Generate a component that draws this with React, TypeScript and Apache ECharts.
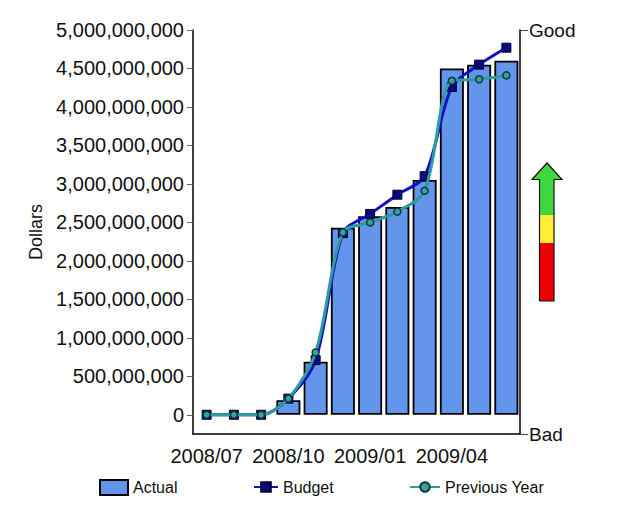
import React, { useEffect, useRef } from "react";
import * as echarts from "echarts";

const categories = [
  "2008/07", "2008/08", "2008/09", "2008/10", "2008/11", "2008/12",
  "2009/01", "2009/02", "2009/03", "2009/04", "2009/05", "2009/06",
];
const actual = [null, null, null, 190e6, 690e6, 2430e6, 2580e6, 2700e6, 3050e6, 4500e6, 4550e6, 4600e6];
const budget = [0, 0, 0, 210e6, 710e6, 2360e6, 2610e6, 2860e6, 3100e6, 4260e6, 4550e6, 4770e6];
const previousYear = [0, 0, 0, 210e6, 810e6, 2370e6, 2500e6, 2640e6, 2910e6, 4340e6, 4360e6, 4410e6];
const yTicks = [0, 500e6, 1000e6, 1500e6, 2000e6, 2500e6, 3000e6, 3500e6, 4000e6, 4500e6, 5000e6];
const rightLabels = ["Bad", "Good"];

const FONT = "Liberation Sans, Arial, sans-serif";

export default function App() {
  const ref = useRef<HTMLDivElement>(null);
  useEffect(() => {
    if (!ref.current) return;
    const chart = echarts.init(ref.current, null, { renderer: "svg" });
    const legendText = { fontFamily: FONT, fontSize: 16, color: "#111" };
    chart.setOption({
      animation: false,
      backgroundColor: "#ffffff",
      grid: { left: 193, right: 100, top: 30, bottom: 74, containLabel: false },
      legend: [
        { data: [{ name: "Actual", icon: "rect" }], left: 94, top: 474, itemWidth: 28, itemHeight: 15, itemGap: 9, textStyle: legendText },
        { data: ["Budget"], left: 248, top: 474, itemWidth: 24, itemHeight: 12, textStyle: legendText },
        { data: ["Previous Year"], left: 404, top: 474, itemWidth: 30, itemHeight: 12, textStyle: legendText },
      ],
      xAxis: {
        type: "category",
        data: categories,
        boundaryGap: true,
        axisLine: { onZero: false, lineStyle: { color: "#000", width: 1.5 } },
        axisTick: { alignWithLabel: true, interval: 2, length: 7, lineStyle: { color: "#888" } },
        axisLabel: { interval: 2, margin: 12, fontFamily: FONT, fontSize: 20, color: "#111" },
      },
      yAxis: [
        {
          type: "value",
          min: -250e6,
          max: 5000e6,
          name: "Dollars",
          nameLocation: "middle",
          nameRotate: 90,
          nameGap: 144,
          nameTextStyle: { fontFamily: FONT, fontSize: 18, color: "#111" },
          axisLine: { show: true, lineStyle: { color: "#000", width: 1.5 } },
          axisTick: { show: true, length: 6, customValues: yTicks, lineStyle: { color: "#666" } },
          axisLabel: {
            customValues: yTicks,
            margin: 9,
            fontFamily: FONT,
            fontSize: 20,
            color: "#111",
            formatter: (v: number) => v.toLocaleString("en-US"),
          },
          splitLine: { show: false },
        },
        {
          type: "value",
          position: "right",
          min: 0,
          max: 1,
          interval: 1,
          axisLine: { show: true, lineStyle: { color: "#000", width: 1.5 } },
          axisTick: { show: true, length: 8, lineStyle: { color: "#444" } },
          axisLabel: {
            margin: 9,
            fontFamily: FONT,
            fontSize: 19,
            color: "#111",
            formatter: (v: number) => (v >= 1 ? rightLabels[1] : rightLabels[0]),
          },
          splitLine: { show: false },
        },
      ],
      series: [
        {
          name: "Actual",
          type: "bar",
          data: actual,
          barWidth: 24,
          itemStyle: { color: "#6495ED", borderColor: "#000", borderWidth: 1.8 },
          z: 2,
        },
        {
          name: "Budget",
          type: "line",
          data: budget,
          smooth: 0.3,
          symbol: "rect",
          symbolSize: 9,
          lineStyle: { color: "#1010C8", width: 3 },
          itemStyle: { color: "#0A0A80", borderColor: "#000030", borderWidth: 1 },
          z: 3,
        },
        {
          name: "Previous Year",
          type: "line",
          data: previousYear,
          smooth: 0.3,
          symbol: "circle",
          symbolSize: 7,
          lineStyle: { color: "#2E9C9C", width: 3 },
          itemStyle: { color: "#3AA0A0", borderColor: "#0D3838", borderWidth: 1.5 },
          z: 4,
        },
      ],
      graphic: [
        {
          type: "group",
          children: [
            { type: "rect", shape: { x: 539.5, y: 243, width: 14.5, height: 58 }, style: { fill: "#EE0000" } },
            { type: "rect", shape: { x: 539.5, y: 215, width: 14.5, height: 28 }, style: { fill: "#FFEE33" } },
            { type: "rect", shape: { x: 539.5, y: 178, width: 14.5, height: 37 }, style: { fill: "#3FD83F" } },
            {
              type: "polygon",
              shape: { points: [[532, 179.5], [547, 163], [562, 179.5]] },
              style: { fill: "#3FD83F" },
            },
            {
              type: "polyline",
              shape: {
                points: [
                  [539.5, 301], [539.5, 179.5], [532, 179.5], [547, 163],
                  [562, 179.5], [554, 179.5], [554, 301], [539.5, 301],
                ],
              },
              style: { stroke: "#111", lineWidth: 1.2, fill: null },
            },
          ],
        },
      ],
    });
    return () => chart.dispose();
  }, []);
  return (
    <div
      ref={ref}
      style={{ position: "fixed", left: 0, top: 0, width: 620, height: 508, background: "#fff" }}
    />
  );
}
